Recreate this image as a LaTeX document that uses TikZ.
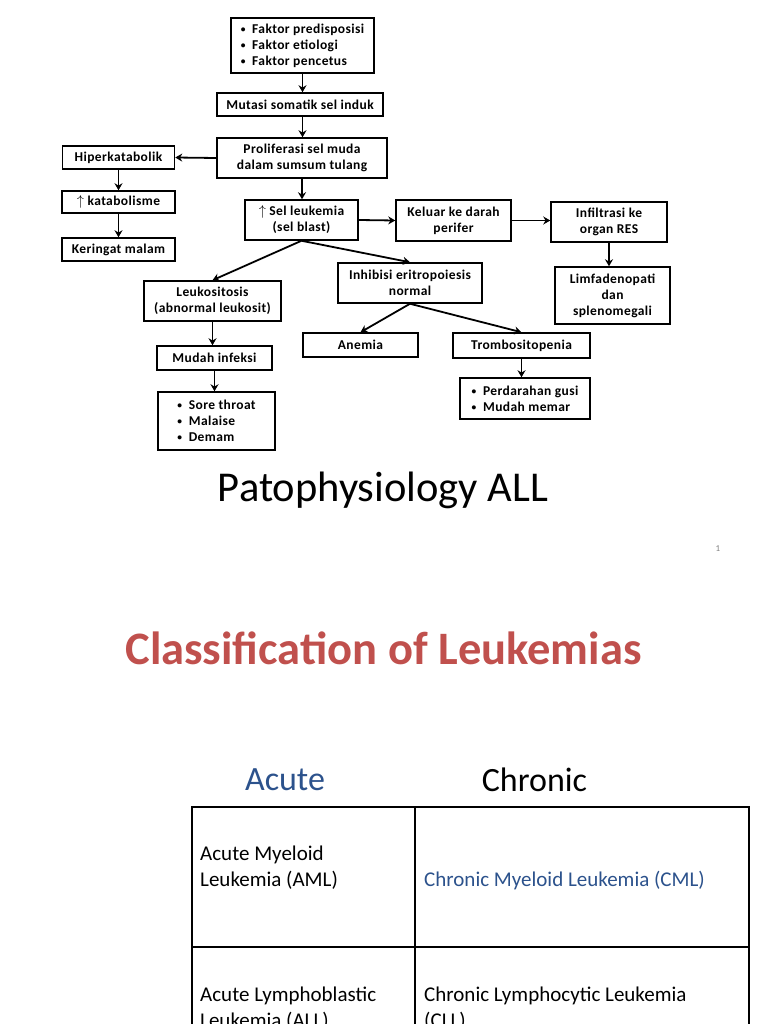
\documentclass[tikz,border=0pt]{standalone}
\usepackage{fontspec}
\setmainfont{Carlito}
\newfontfamily\flowfont[LetterSpace=3]{Carlito}
\usetikzlibrary{arrows.meta}
\definecolor{titlered}{RGB}{192,80,77}
\definecolor{slideblue}{RGB}{44,82,140}
\newcommand{\blt}{\raisebox{.15ex}{\scalebox{.7}{\textbullet}}\enspace}
\tikzset{
  box/.style={draw,line width=1.5pt,inner sep=1pt,align=center,font=\flowfont\bfseries\fontsize{13.5}{16}\selectfont},
  flow/.style={->,line width=1.8pt},
  cell/.style={anchor=west,align=left,inner sep=0pt,font=\fontsize{21}{26}\selectfont},
}

\begin{document}
\begin{tikzpicture}[x=1pt,y=-1pt,>={Stealth[length=7pt,width=8pt]}]
\useasboundingbox (0,0) rectangle (768,1024);
\clip (0,0) rectangle (768,1024);
% flowchart
\node[box,minimum width=143,minimum height=55,align=left] (fak)at(302.5,45.5){\blt Faktor predisposisi\\\blt Faktor etiologi\\\blt Faktor pencetus};
\node[box,minimum width=166,minimum height=23] (mut)at(300,104.5){Mutasi somatik sel induk};
\node[box,minimum width=170,minimum height=40] (pro)at(302,158){Proliferasi sel muda\\dalam sumsum tulang};
\node[box,minimum width=112,minimum height=23] (hip)at(118.5,157.5){Hiperkatabolik};
\node[box,minimum width=113,minimum height=22] (kat)at(118.5,202){{\mdseries$\uparrow$} katabolisme};
\node[box,minimum width=113,minimum height=23] (ker)at(118.5,249.5){Keringat malam};
\node[box,minimum width=113,minimum height=40] (sel)at(301.5,220){{\mdseries$\uparrow$} Sel leukemia\\(sel blast)};
\node[box,minimum width=115,minimum height=41] (kel)at(453.5,220.5){Keluar ke darah\\perifer};
\node[box,minimum width=116,minimum height=40] (inf)at(609,222){Infiltrasi ke\\organ RES};
\node[box,minimum width=115,minimum height=57] (lim)at(612.5,295.5){Limfadenopati\\dan\\splenomegali};
\node[box,minimum width=144,minimum height=40] (inh)at(410,283){Inhibisi eritropoiesis\\normal};
\node[box,minimum width=137,minimum height=40] (leu)at(212.5,301){Leukositosis\\(abnormal leukosit)};
\node[box,minimum width=115,minimum height=24] (mud)at(214.5,358){Mudah infeksi};
\node[box,minimum width=117,minimum height=58,align=left] (sym)at(216.5,421){\blt Sore throat\\\blt Malaise\\\blt Demam};
\node[box,minimum width=115,minimum height=24] (ane)at(360.5,345){Anemia};
\node[box,minimum width=137,minimum height=25] (tro)at(521.5,345.5){Trombositopenia};
\node[box,minimum width=130,minimum height=41,align=left] (per)at(525,398.5){\blt Perdarahan gusi\\\blt Mudah memar};
\draw[flow] (fak.south)--(fak.south |- mut.north);
\draw[flow] (fak.south |- mut.south)--(fak.south |- pro.north);
\draw[flow] (pro.west)--(hip.east);
\draw[flow] (hip.south)--(hip.south |- kat.north);
\draw[flow] (hip.south |- kat.south)--(hip.south |- ker.north);
\draw[flow] (pro.south)--(pro.south |- sel.north);
\draw[flow] (sel.east)--(kel.west);
\draw[flow] (kel.east)--(kel.east -| inf.west);
\draw[flow] (inf.south)--(inf.south |- lim.north);
\draw[flow] (sel.south)--(leu.north);
\draw[flow] (sel.south)--(inh.north);
\draw[flow] (leu.south)--(leu.south |- mud.north);
\draw[flow] (mud.south)--(mud.south |- sym.north);
\draw[flow] (inh.south)--(ane.north);
\draw[flow] (inh.south)--(tro.north);
\draw[flow] (tro.south)--(tro.south |- per.north);
\node[font=\fontsize{42.5}{46}\selectfont] (ttl)at(383,490){Patophysiology ALL};
\node[text=gray,font=\fontsize{9}{10}\selectfont] (pg)at(718,549){1};
% second slide
\node[text=titlered,font=\bfseries\fontsize{46.5}{52}\selectfont] (cls)at(383.5,648){Classification of Leukemias};
\node[text=slideblue,font=\fontsize{34}{38}\selectfont] (acu)at(285,780){Acute};
\node[font=\fontsize{34}{38}\selectfont] (chr)at(534.5,780){Chronic};
\draw[line width=2.5pt] (192,807) rectangle (749,1040);
\draw[line width=2.5pt] (415,807)--(415,1040);
\draw[line width=2.5pt] (192,947)--(749,947);
\node[cell] (aml)at(200,868){Acute Myeloid\\Leukemia (AML)};
\node[cell,text=slideblue] (cml)at(424,881){Chronic Myeloid Leukemia (CML)};
\node[cell] (all)at(200,1009){Acute Lymphoblastic\\Leukemia (ALL)};
\node[cell] (cll)at(424,1009){Chronic Lymphocytic Leukemia\\(CLL)};
\end{tikzpicture}
\end{document}
